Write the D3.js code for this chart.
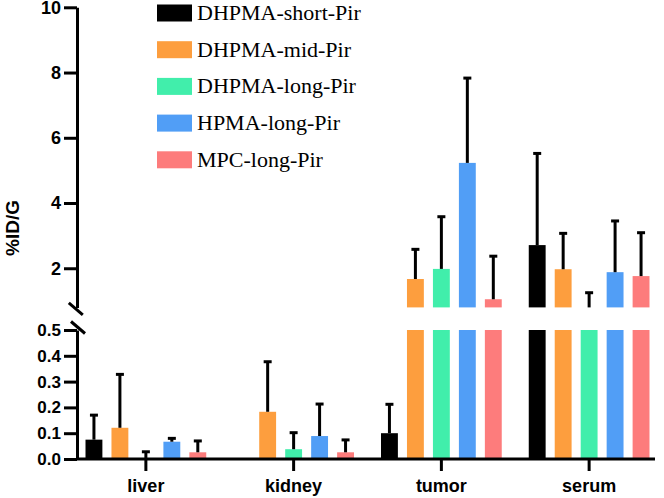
<!DOCTYPE html>
<html>
<head>
<meta charset="utf-8">
<script src="https://cdn.jsdelivr.net/npm/d3@7"></script>
<style>
  html,body{margin:0;padding:0;background:#fff;}
  svg{display:block;}
  .ax path,.ax line{stroke:#000;stroke-width:3;}
  .ax text{font-family:"Liberation Sans",Arial,sans-serif;font-weight:bold;fill:#000;}
  .leg text{font-family:"Liberation Serif","Times New Roman",serif;font-size:22px;fill:#000;}
</style>
</head>
<body>
<svg id="chart" width="664" height="498"></svg>
<script>
// ── data (mean and SD, %ID/g) ──
const ORGANS=["liver","kidney","tumor","serum"];
const SERIES=["DHPMA-short-Pir","DHPMA-mid-Pir","DHPMA-long-Pir","HPMA-long-Pir","MPC-long-Pir"];
const COLORS=["#000000","#fd9e3e","#41eeab","#519ef6","#fd7c7c"];
const MEAN_SHORT=[0.075,0,0.10,2.71];
const SD_SHORT  =[0.095,0,0.112,2.81];
const MEAN_MID  =[0.121,0.183,1.67,1.97];
const SD_MID    =[0.207,0.194,0.91,1.10];
const MEAN_DLONG=[0.004,0.038,1.98,0.62];
const SD_DLONG  =[0.024,0.064,1.60,0.63];
const MEAN_HPMA =[0.067,0.089,5.23,1.88];
const SD_HPMA   =[0.013,0.124,2.60,1.57];
const MEAN_MPC  =[0.026,0.026,1.05,1.76];
const SD_MPC    =[0.044,0.048,1.32,1.33];
const LO_TICKS=[0,0.1,0.2,0.3,0.4,0.5];
const HI_TICKS=[2,4,6,8,10];
const LO_DOMAIN=[0,0.5], HI_DOMAIN=[0.8,10];

const MEANS=[MEAN_SHORT,MEAN_MID,MEAN_DLONG,MEAN_HPMA,MEAN_MPC];
const SDS=[SD_SHORT,SD_MID,SD_DLONG,SD_HPMA,SD_MPC];
const rows=[];
SERIES.forEach((s,si)=>ORGANS.forEach((o,oi)=>rows.push({s,si,o,v:MEANS[si][oi],sd:SDS[si][oi]})));

const svg=d3.select("#chart");
const AX=77, X0=459;
const x0=d3.scaleBand().domain(ORGANS).range([72,663]).padding(0);
const x1=d3.scaleBand().domain(SERIES).range([0,x0.bandwidth()]).paddingInner(0.35).paddingOuter(0.52);
const yLo=d3.scaleLinear().domain(LO_DOMAIN).range([X0,330]);
const yHi=d3.scaleLinear().domain(HI_DOMAIN).range([307.4,7.3]);

// ── bars, split over the two segments ──
const segs=[[yLo,LO_DOMAIN],[yHi,HI_DOMAIN]];
const gBars=svg.append("g");
segs.forEach(([y,dom])=>{
  rows.forEach(r=>{
    const a=Math.max(dom[0],0===dom[0]?0:dom[0]), b=Math.min(r.v,dom[1]);
    if(b<=a)return;
    gBars.append("rect")
      .attr("x",x0(r.o)+x1(r.s)).attr("width",x1.bandwidth())
      .attr("y",y(b)).attr("height",y(a)-y(b))
      .attr("fill",COLORS[r.si]);
  });
});

// ── error bars (mean → mean+SD) ──
const gErr=svg.append("g").attr("stroke","#000").attr("stroke-width",3);
segs.forEach(([y,dom])=>{
  rows.forEach(r=>{
    if(!r.sd)return;
    const top=r.v+r.sd, a=Math.max(r.v,dom[0]), b=Math.min(top,dom[1]);
    if(b<=a)return;
    const cx=x0(r.o)+x1(r.s)+x1.bandwidth()/2;
    gErr.append("line").attr("x1",cx).attr("x2",cx).attr("y1",y(a)).attr("y2",y(b));
    if(top<=dom[1])gErr.append("line").attr("x1",cx-4).attr("x2",cx+4).attr("y1",y(top)).attr("y2",y(top));
  });
});

// ── axes ──
svg.append("g").attr("class","ax").attr("transform",`translate(${AX},0)`)
  .call(d3.axisLeft(yHi).tickValues(HI_TICKS).tickSize(13).tickSizeOuter(0).tickPadding(3).tickFormat(d3.format("d")))
  .call(g=>g.selectAll("text").attr("font-size",18));
svg.append("g").attr("class","ax").attr("transform",`translate(${AX},0)`)
  .call(d3.axisLeft(yLo).tickValues(LO_TICKS).tickSize(13).tickSizeOuter(0).tickPadding(3).tickFormat(d3.format(".1f")))
  .call(g=>g.selectAll("text").attr("font-size",17));
svg.append("g").attr("class","ax").attr("transform",`translate(0,${X0})`)
  .call(d3.axisBottom(x0).tickSize(12).tickSizeOuter(0).tickPadding(8))
  .call(g=>g.select(".domain").attr("d",`M${AX},0H655`))
  .call(g=>g.selectAll("text").attr("font-size",18));

// break marks
const gBrk=svg.append("g").attr("stroke","#000").attr("stroke-width",3);
[[75.8,308.8],[78,327.5]].forEach(([cx,cy])=>
  gBrk.append("line").attr("x1",cx-7).attr("y1",cy-6).attr("x2",cx+7).attr("y2",cy+6));

// y label
svg.append("text").attr("transform","translate(19,228) rotate(-90)")
  .attr("text-anchor","middle").attr("font-family","Liberation Sans, Arial, sans-serif")
  .attr("font-weight","bold").attr("font-size",19).text("%ID/G");

// ── legend ──
const leg=svg.append("g").attr("class","leg");
SERIES.forEach((s,i)=>{
  const cy=13+i*36.7;
  leg.append("rect").attr("x",157).attr("y",cy-8.5).attr("width",35).attr("height",17).attr("fill",COLORS[i]);
  leg.append("text").attr("x",197).attr("y",cy+7).text(s);
});
</script>
</body>
</html>
